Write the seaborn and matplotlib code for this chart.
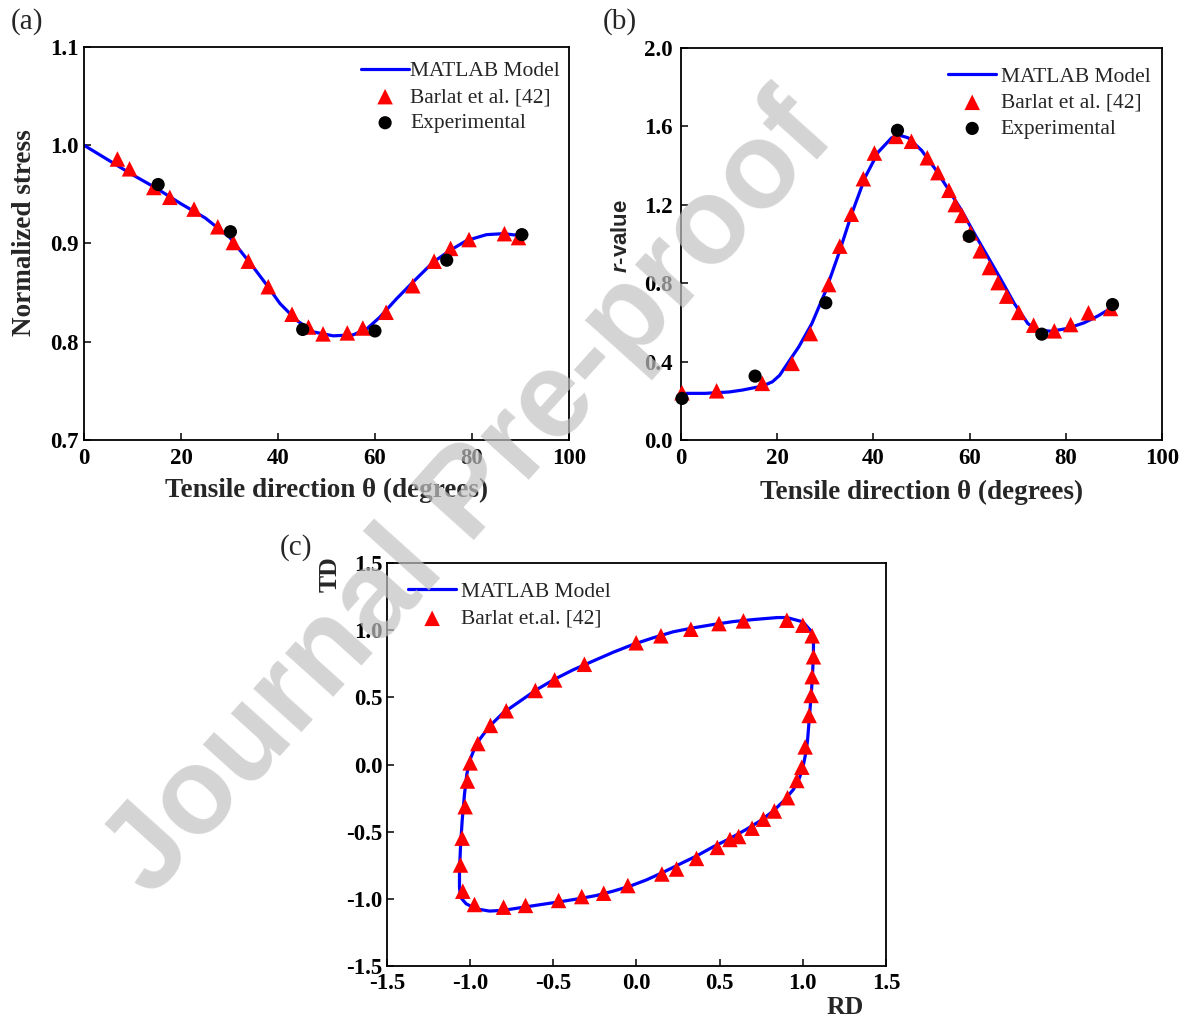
import matplotlib
matplotlib.use("Agg")
import matplotlib.pyplot as plt
import seaborn as sns
import pandas as pd

# ---------------- data ----------------
# (a) normalized stress
a_model_theta = [0, 5, 10, 15, 19.8, 25, 30.1, 34.9, 37.5, 40.4, 43.8, 47.3, 51.4, 55.5, 58.3,
                 61.0, 64.5, 67.9, 72.0, 75.5, 78.9, 83.0, 86.5, 90]
a_model_stress = [1.0, 0.985, 0.970, 0.956, 0.941, 0.926, 0.906, 0.876, 0.859, 0.839, 0.822, 0.810,
                  0.806, 0.807, 0.813, 0.825, 0.844, 0.861, 0.881, 0.893, 0.903, 0.909, 0.910, 0.908]
a_barlat_theta = [6.9, 9.4, 14.4, 17.7, 22.7, 27.6, 30.8, 33.9, 38.0, 42.9, 46.3, 49.3, 54.3, 57.5,
                  62.3, 67.8, 72.2, 75.6, 79.4, 86.7, 89.6]
a_barlat_stress = [0.986, 0.976, 0.957, 0.947, 0.935, 0.917, 0.901, 0.882, 0.856, 0.828, 0.815, 0.808,
                   0.809, 0.814, 0.830, 0.857, 0.882, 0.895, 0.904, 0.910, 0.906]
a_exp_theta = [15.3, 30.2, 45.1, 60.0, 74.8, 90.3]
a_exp_stress = [0.960, 0.912, 0.8125, 0.811, 0.883, 0.909]

# (b) r-value
b_model_theta = [0, 5, 10, 12.8, 16.9, 19.0, 20.5, 21.7, 24.5, 27.2, 30.0, 32.8, 35.5, 38.3, 41.0,
                 43.8, 45.5, 47.2, 50.0, 52.8, 55.5, 58.3, 61.0, 63.8, 66.6, 69.3, 72.1, 74.1, 76.9,
                 80.3, 83.8, 86.6, 89.3]
b_model_r = [0.238, 0.238, 0.245, 0.255, 0.275, 0.297, 0.330, 0.374, 0.476, 0.594, 0.756, 0.951,
             1.155, 1.342, 1.469, 1.542, 1.554, 1.542, 1.478, 1.384, 1.282, 1.172, 1.053, 0.934,
             0.815, 0.696, 0.594, 0.561, 0.555, 0.569, 0.598, 0.632, 0.671]
b_barlat_theta = [0.2, 7.4, 16.9, 23.1, 26.9, 30.7, 33.0, 35.4, 37.9, 40.2, 44.7, 47.9, 51.2, 53.4,
                  55.7, 57.0, 58.4, 60.2, 62.2, 64.1, 65.9, 67.7, 70.2, 73.3, 77.6, 81.0, 84.7, 89.3]
b_barlat_r = [0.241, 0.251, 0.289, 0.391, 0.543, 0.793, 0.989, 1.152, 1.333, 1.464, 1.549, 1.524,
              1.440, 1.364, 1.274, 1.201, 1.146, 1.057, 0.965, 0.880, 0.803, 0.734, 0.651, 0.586,
              0.557, 0.589, 0.649, 0.671]
b_exp_theta = [0.2, 15.4, 30.1, 45.0, 59.9, 75.0, 89.7]
b_exp_r = [0.212, 0.326, 0.700, 1.580, 1.039, 0.540, 0.691]

# (c) yield locus
c_model_rd = [0.849, 0.904, 1.000, 1.050, 1.064, 1.064, 1.056, 1.044, 1.028, 1.016, 1.000, 0.980,
              0.944, 0.884, 0.823, 0.743, 0.663, 0.562, 0.462, 0.361, 0.261, 0.161, 0.060, -0.040,
              -0.141, -0.241, -0.341, -0.462, -0.582, -0.703, -0.803, -0.884, -0.964, -1.024,
              -1.058, -1.064, -1.064, -1.058, -1.048, -1.034, -1.020, -1.004, -0.980, -0.944,
              -0.884, -0.803, -0.703, -0.602, -0.492, -0.382, -0.261, -0.141, -0.020, 0.100,
              0.221, 0.341, 0.462, 0.582, 0.703, 0.849]
c_model_td = [1.094, 1.094, 1.062, 0.993, 0.926, 0.815, 0.617, 0.420, 0.173, 0.074, -0.025, -0.099,
              -0.185, -0.272, -0.346, -0.420, -0.481, -0.551, -0.612, -0.681, -0.741, -0.802,
              -0.859, -0.906, -0.943, -0.975, -0.998, -1.022, -1.044, -1.067, -1.086, -1.091,
              -1.074, -1.037, -0.988, -0.914, -0.790, -0.617, -0.420, -0.222, -0.074, 0.025,
              0.099, 0.185, 0.284, 0.383, 0.469, 0.556, 0.635, 0.704, 0.770, 0.835, 0.894, 0.943,
              0.988, 1.017, 1.042, 1.064, 1.079, 1.094]
c_barlat_rd = [0.904, 1.000, 1.056, 1.064, 1.056, 1.050, 1.038, 1.014, 0.994, 0.964, 0.908, 0.829,
               0.763, 0.695, 0.614, 0.562, 0.486, 0.361, 0.241, 0.153, -0.052, -0.197, -0.329,
               -0.468, -0.667, -0.799, -0.974, -1.044, -1.058, -1.048, -1.030, -1.016, -1.000,
               -0.954, -0.878, -0.783, -0.608, -0.492, -0.313, -0.002, 0.147, 0.327, 0.496, 0.643]
c_barlat_td = [1.074, 1.037, 0.958, 0.802, 0.654, 0.514, 0.365, 0.131, -0.020, -0.119, -0.247,
               -0.346, -0.407, -0.474, -0.536, -0.558, -0.617, -0.699, -0.778, -0.815, -0.901,
               -0.958, -0.983, -1.012, -1.049, -1.062, -1.042, -0.943, -0.748, -0.548, -0.314,
               -0.123, 0.012, 0.156, 0.291, 0.400, 0.551, 0.630, 0.746, 0.906, 0.958, 1.007,
               1.049, 1.069]

a_xticks = [0, 20, 40, 60, 80, 100]
a_yticks = [0.7, 0.8, 0.9, 1.0, 1.1]
b_yticks = [0.0, 0.4, 0.8, 1.2, 1.6, 2.0]
c_ticks = [-1.5, -1.0, -0.5, 0.0, 0.5, 1.0, 1.5]

# ---------------- style ----------------
sns.set_theme(style="white")
plt.rcParams["font.family"] = ["Liberation Serif", "DejaVu Serif"]
plt.rcParams["mathtext.fontset"] = "custom"
plt.rcParams["mathtext.it"] = "Liberation Sans:italic:bold"
plt.rcParams["mathtext.rm"] = "Liberation Sans:bold"

BLUE = "#0000ff"
RED = "#ff0000"
TICK_FS = 16.5
LAB_FS = 19.5
LEG_FS = 15.5
LW = 2.3
TRI_S = 125
CIR_S = 90

fig = plt.figure(figsize=(11.91, 10.19), dpi=100)
ax_a = fig.add_axes([0.0705, 0.5682, 0.4072, 0.3857])
ax_b = fig.add_axes([0.5718, 0.5682, 0.4039, 0.3847])
ax_c = fig.add_axes([0.3249, 0.0520, 0.4190, 0.3955])


def style_axes(ax, xpad=6, ypad=4):
    for sp in ax.spines.values():
        sp.set_visible(True)
        sp.set_color("black")
        sp.set_linewidth(1.3)
    ax.tick_params(axis="both", direction="in", length=5, width=1.1, color="black",
                   top=False, right=False, left=True, bottom=True)
    ax.tick_params(axis="x", pad=xpad)
    ax.tick_params(axis="y", pad=ypad)
    for lab in ax.get_xticklabels() + ax.get_yticklabels():
        lab.set_fontweight("bold")
        lab.set_fontsize(TICK_FS)
        lab.set_color("black")
    ax.grid(False)


def make_legend(ax, anchor, textpad, spacing=0.28):
    h, l = ax.get_legend_handles_labels()
    leg = ax.legend(h, l, loc="upper left", bbox_to_anchor=anchor, frameon=False,
                    fontsize=LEG_FS, borderpad=0, borderaxespad=0, handlelength=2.25,
                    handletextpad=textpad, labelspacing=spacing, markerscale=1.0)
    return leg


# ---------------- (a) ----------------
df_am = pd.DataFrame({"x": a_model_theta, "y": a_model_stress})
df_ab = pd.DataFrame({"x": a_barlat_theta, "y": a_barlat_stress})
df_ae = pd.DataFrame({"x": a_exp_theta, "y": a_exp_stress})
sns.lineplot(data=df_am, x="x", y="y", ax=ax_a, color=BLUE, lw=LW, sort=False, estimator=None,
             label="MATLAB Model", zorder=2)
sns.scatterplot(data=df_ab, x="x", y="y", ax=ax_a, marker="^", color=RED, s=TRI_S,
                edgecolor="none", label="Barlat et al. [42]", zorder=3)
sns.scatterplot(data=df_ae, x="x", y="y", ax=ax_a, marker="o", color="black", s=CIR_S,
                edgecolor="none", label="Experimental", zorder=4)
ax_a.set_xlim(0, 100)
ax_a.set_ylim(0.7, 1.1)
ax_a.set_xticks(a_xticks)
ax_a.set_yticks(a_yticks)
ax_a.set_xticklabels([str(v) for v in a_xticks])
ax_a.set_yticklabels([f"{v:.1f}" for v in a_yticks])
ax_a.set_xlabel("Tensile direction θ (degrees)", fontsize=LAB_FS, fontweight="bold")
ax_a.set_ylabel("Normalized stress", fontsize=LAB_FS, fontweight="bold")
ax_a.xaxis.set_label_coords(0.501, -0.097)
ax_a.yaxis.set_label_coords(-0.097, 0.527)
style_axes(ax_a)
make_legend(ax_a, (0.571, 0.964), 0.05)

# ---------------- (b) ----------------
df_bm = pd.DataFrame({"x": b_model_theta, "y": b_model_r})
df_bb = pd.DataFrame({"x": b_barlat_theta, "y": b_barlat_r})
df_be = pd.DataFrame({"x": b_exp_theta, "y": b_exp_r})
sns.lineplot(data=df_bm, x="x", y="y", ax=ax_b, color=BLUE, lw=LW, sort=False, estimator=None,
             label="MATLAB Model", zorder=2)
sns.scatterplot(data=df_bb, x="x", y="y", ax=ax_b, marker="^", color=RED, s=TRI_S,
                edgecolor="none", label="Barlat et al. [42]", zorder=3, clip_on=False)
sns.scatterplot(data=df_be, x="x", y="y", ax=ax_b, marker="o", color="black", s=CIR_S,
                edgecolor="none", label="Experimental", zorder=4, clip_on=False)
ax_b.set_xlim(0, 100)
ax_b.set_ylim(0.0, 2.0)
ax_b.set_xticks(a_xticks)
ax_b.set_yticks(b_yticks)
ax_b.set_xticklabels([str(v) for v in a_xticks])
ax_b.set_yticklabels([f"{v:.1f}" for v in b_yticks])
ax_b.set_xlabel("Tensile direction θ (degrees)", fontsize=LAB_FS, fontweight="bold")
ax_b.set_ylabel(r"$\mathit{r}$-value", fontsize=16, fontweight="bold",
                fontfamily="Liberation Sans")
ax_b.xaxis.set_label_coords(0.501, -0.102)
ax_b.yaxis.set_label_coords(-0.102, 0.52)
style_axes(ax_b, ypad=6)
make_legend(ax_b, (0.555, 0.952), 0.2)

# ---------------- (c) ----------------
df_cm = pd.DataFrame({"x": c_model_rd, "y": c_model_td})
df_cb = pd.DataFrame({"x": c_barlat_rd, "y": c_barlat_td})
sns.lineplot(data=df_cm, x="x", y="y", ax=ax_c, color=BLUE, lw=LW, sort=False, estimator=None,
             label="MATLAB Model", zorder=2)
sns.scatterplot(data=df_cb, x="x", y="y", ax=ax_c, marker="^", color=RED, s=TRI_S,
                edgecolor="none", label="Barlat et.al. [42]", zorder=3)
ax_c.set_xlim(-1.5, 1.5)
ax_c.set_ylim(-1.5, 1.5)
ax_c.set_xticks(c_ticks)
ax_c.set_yticks(c_ticks)
ax_c.set_xticklabels([f"{v:.1f}" for v in c_ticks])
ax_c.set_yticklabels([f"{v:.1f}" for v in c_ticks])
ax_c.set_xlabel("RD", fontsize=LAB_FS - 1, fontweight="bold")
ax_c.set_ylabel("TD", fontsize=LAB_FS - 1, fontweight="bold")
ax_c.xaxis.set_label_coords(0.918, -0.074)
ax_c.yaxis.set_label_coords(-0.09, 0.973)
style_axes(ax_c, xpad=5, ypad=3)
make_legend(ax_c, (0.042, 0.953), 0.2, spacing=0.32)

# ---------------- panel letters ----------------
fig.text(27 / 1191, 1 - 22 / 1019, "(a)", fontsize=21, ha="center", va="center")
fig.text(620 / 1191, 1 - 22 / 1019, "(b)", fontsize=21, ha="center", va="center")
fig.text(296 / 1191, 1 - 548 / 1019, "(c)", fontsize=21, ha="center", va="center")

# ---------------- watermark ----------------
fig.text(0.395, 0.512, "Journal Pre-proof", fontsize=88, fontfamily="Liberation Sans",
         fontweight="bold", color=(0.76, 0.76, 0.76), alpha=0.7, rotation=48,
         rotation_mode="anchor", ha="center", va="center", zorder=100)

fig.savefig("out.png", dpi=100)
